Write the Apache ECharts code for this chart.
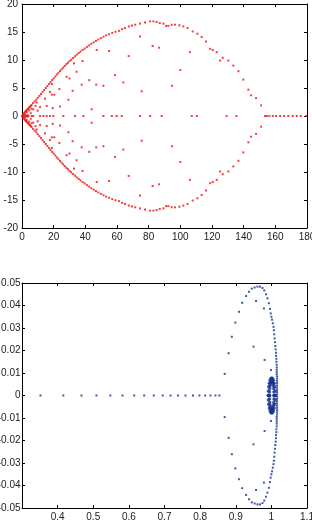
<!DOCTYPE html>
<html>
<head>
<meta charset="utf-8">
<script src="https://cdn.jsdelivr.net/npm/echarts@6/dist/echarts.min.js"></script>
<style>
  html, body { margin: 0; padding: 0; background: #fff; }
  #chart { width: 312px; height: 520px; }
</style>
</head>
<body>
<div id="chart"></div>
<script>
// ---- top plot (red), upper half; the plot is mirror-symmetric about y = 0
var topUpperEdge = [
  [0.5,0.2],[1,0.4],[1.5,0.55],[2,0.75],[2.5,0.9],[3,1.05],[3.5,1.2],[4,1.35],[4.5,1.5],[5,1.65],
  [5.5,1.8],[6,1.95],[7,2.3],[8,2.6],[9,2.9],[10,3.25],[11,3.6],[12,3.95],[13,4.3],[14,4.65],
  [15,5.0],[16,5.35],[17,5.7],[18,6.05],[19,6.4],[20,6.7],[21,7.05],[22,7.4],[23,7.7],[24,8.05],
  [25,8.35],[26,8.65],[27,8.95],[28,9.25],[29,9.5],[30,9.8],[31,10.05],[32.2,10.35],[33.4,10.65],
  [34.6,10.95],[35.8,11.25],[37,11.5],[38.3,11.8],[39.6,12.05],[41,12.35],[42.4,12.6],[43.8,12.9],
  [45.2,13.15],[46.7,13.4],[48.2,13.65],[49.8,13.9],[51.5,14.15],[53.2,14.4],[55,14.6],[57,14.85],
  [59,15.05],[61.3,15.2],[63.2,15.5],[65,15.7],[67.5,16.0],[69.5,16.15],[71.5,16.3],[74.5,16.5],
  [77.7,16.7],[80.9,16.9],[83,16.9],[85,16.8],[87,16.6],[89.3,16.5],[91,16.1],[92.4,16.1],[94.5,16.3],
  [96.6,16.3],[99.4,16.2],[101.9,16.0],[104.6,15.7],[107.8,15.1],[110.8,14.7],[113.5,14.1],
  [116.2,13.3],[118.8,12.0],[120.5,11.8],[123,11.4],[125.1,9.9],[126.8,10.4],[130.3,9.9],
  [133.5,9.0],[136.7,8.0],[139.8,6.5],[143,4.7],[144.7,3.7],[147.8,3.2],[151,1.9]
];
var topUpperInner = [
  [2,0.3],[3,0.7],[3.5,0.15],[4.5,1.0],[5.5,0.5],[6,1.3],[7.1,1.2],[8.5,1.8],[9.9,0.95],[9.3,2.4],
  [11.4,1.6],[14.5,3.1],[15.6,1.8],[17.7,4.3],[18.8,3.8],[19.4,1.4],[18.8,5.7],[20.4,3.8],[23.6,4.8],
  [24,1.7],[28.2,7.0],[29.3,2.9],[30,6.7],[32,4.5],[32.8,9.4],[34.5,7.9],[37.7,5.6],[38.3,9.8],
  [42.5,6.4],[44,1.2],[46.9,5.6],[47.2,11.8],[51.4,5.4],[55,11.6],[58.7,7.3],[64,6.0],[67.4,10.7],
  [74.5,14.2],[75.6,4.4],[82.5,12.5],[86.5,12.2],[94.8,5.4],[100,8.2],[106,11.4]
];
var topAxisX = [0,1,2,3,4,6.1,7.1,11.4,13.5,15.6,17.7,19.8,26.1,33.5,38.8,51.4,56.7,59.8,63,74.5,
  80.9,88.2,107.2,110.4,129.2,135.4,153.5,154.6,156.2,158.4,160.5,163,165.5,168.2,171,173.5,176,179.4];

// ---- bottom plot (blue), upper half, also mirror-symmetric
var botUpperEdge = [
  [1.016,0.0005],[1.016,0.0015],[1.016,0.0025],[1.016,0.0035],[1.016,0.0045],[1.016,0.0055],
  [1.016,0.0065],[1.016,0.0075],[1.016,0.0085],[1.015,0.0095],[1.015,0.0105],[1.015,0.0115],
  [1.015,0.0125],[1.015,0.0137],[1.014,0.015],[1.014,0.0163],[1.013,0.0176],[1.013,0.019],
  [1.012,0.0205],[1.011,0.022],[1.010,0.0237],[1.009,0.0254],[1.008,0.0272],[1.007,0.029],
  [1.006,0.0305],[1.004,0.0321],[1.002,0.0337],[1.0,0.035],[0.998,0.0365],[0.996,0.0385],
  [0.993,0.041],[0.989,0.0432],[0.985,0.045],[0.980,0.0467],[0.975,0.0478],[0.968,0.0484],
  [0.961,0.0484],[0.953,0.048],[0.945,0.0475],[0.937,0.0461],[0.929,0.0442],[0.918,0.0412],
  [0.909,0.0372],[0.899,0.0324],[0.889,0.0261],[0.880,0.0188],[0.869,0.0096]
];
var botUpperInner = [[0.957,0.042],[0.979,0.0387],[0.950,0.0217],[0.981,0.0158],[0.999,0.0113]];
var botRingOuter = [
  [1.0105,0],[1.0102,0.0020],[1.0092,0.0039],[1.0077,0.0055],[1.0058,0.0068],[1.0035,0.0075],
  [1.001,0.0078],[0.9985,0.0075],[0.9963,0.0068],[0.9943,0.0055],[0.9928,0.0039],[0.9918,0.0020],[0.9915,0]
];
var botRingInner = [
  [1.0075,0],[1.0073,0.0016],[1.0066,0.0031],[1.0055,0.0044],[1.0041,0.0054],[1.0026,0.0060],
  [1.001,0.0062],[0.9994,0.0060],[0.9979,0.0054],[0.9965,0.0044],[0.9954,0.0031],[0.9947,0.0016],[0.9945,0]
];
var botAxisX = [0.352,0.416,0.467,0.509,0.548,0.582,0.615,0.643,0.670,0.695,0.717,0.738,0.759,
  0.780,0.798,0.814,0.829,0.843,0.854];

function mirror(pts) {
  return pts.concat(pts.map(function (p) { return [p[0], -p[1]]; }));
}
function onAxis(xs) {
  return xs.map(function (x) { return [x, 0]; });
}

var RED = '#f01010';
var BLUE = '#14308f';
var font = { fontSize: 10, color: '#222', fontFamily: 'Liberation Sans' };

function xAx(grid, pos, min, max, step, showLab) {
  return {
    type: 'value', gridIndex: grid, position: pos, min: min, max: max, interval: step,
    axisLine: { show: true, onZero: false, lineStyle: { color: '#000', width: 1 } },
    axisTick: { show: true, inside: true, length: 3, lineStyle: { color: '#000' } },
    axisLabel: Object.assign({ show: showLab, margin: 4, showMinLabel: grid === 0 }, font),
    splitLine: { show: false }
  };
}
function yAx(grid, pos, min, max, step, showLab) {
  return {
    type: 'value', gridIndex: grid, position: pos, min: min, max: max, interval: step,
    axisLine: { show: true, onZero: false, lineStyle: { color: '#000', width: 1 } },
    axisTick: { show: true, inside: true, length: 3, lineStyle: { color: '#000' } },
    axisLabel: Object.assign({ show: showLab, margin: grid === 0 ? 4 : 1.5 }, font),
    splitLine: { show: false }
  };
}

var chart = echarts.init(document.getElementById('chart'));
chart.setOption({
  animation: false,
  backgroundColor: '#fff',
  grid: [
    { left: 22, right: 5, top: 4, height: 224, containLabel: false, outerBoundsMode: 'none' },
    { left: 22, right: 5, top: 283, height: 225, containLabel: false, outerBoundsMode: 'none' }
  ],
  xAxis: [
    xAx(0, 'bottom', 0, 180, 20, true),
    xAx(0, 'top', 0, 180, 20, false),
    xAx(1, 'bottom', 0.3, 1.1, 0.1, true),
    xAx(1, 'top', 0.3, 1.1, 0.1, false)
  ],
  yAxis: [
    yAx(0, 'left', -20, 20, 5, true),
    yAx(0, 'right', -20, 20, 5, false),
    yAx(1, 'left', -0.05, 0.05, 0.01, true),
    yAx(1, 'right', -0.05, 0.05, 0.01, false)
  ],
  series: [
    {
      type: 'scatter', xAxisIndex: 0, yAxisIndex: 0, symbol: 'rect', symbolSize: 2,
      itemStyle: { color: RED }, silent: true,
      data: mirror(topUpperEdge).concat(mirror(topUpperInner), onAxis(topAxisX))
    },
    {
      type: 'scatter', xAxisIndex: 2, yAxisIndex: 2, symbol: 'rect', symbolSize: 2,
      itemStyle: { color: BLUE }, silent: true,
      data: mirror(botUpperEdge).concat(mirror(botUpperInner), onAxis(botAxisX))
    },
    {
      type: 'scatter', xAxisIndex: 2, yAxisIndex: 2, symbol: 'circle', symbolSize: 3.5,
      itemStyle: { color: BLUE }, silent: true,
      data: mirror(botRingOuter).concat(mirror(botRingInner))
    }
  ]
});
</script>
</body>
</html>
